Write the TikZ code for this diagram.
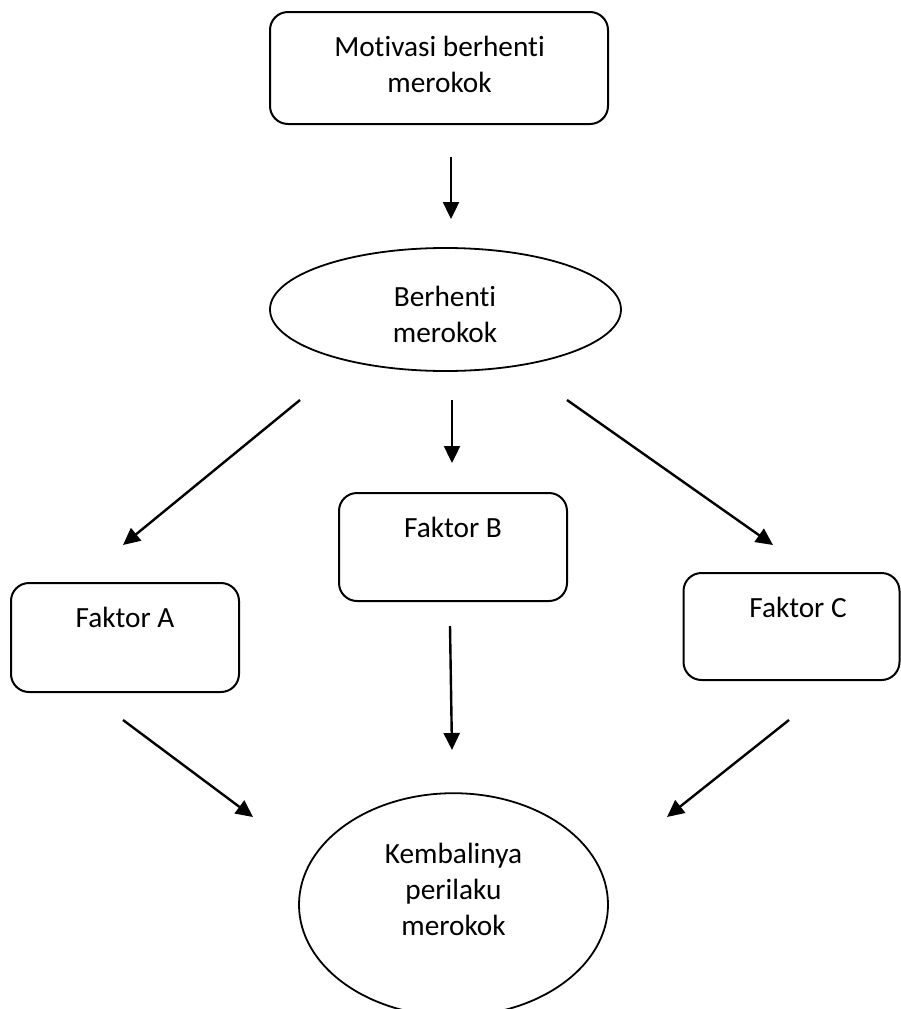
\documentclass[tikz,border=0pt]{standalone}
\usepackage{fontspec}
\setmainfont{Carlito}[Ligatures=NoCommon]
\usetikzlibrary{arrows.meta,shapes.geometric}
\begin{document}
\begin{tikzpicture}[x=1pt,y=-1pt,
  box/.style={draw,line width=2pt,rounded corners=18pt,inner sep=0pt},
  oval/.style={draw,line width=1.8pt,ellipse,inner sep=0pt},
  lbl/.style={font=\fontsize{29.3}{36}\selectfont,align=center,inner sep=0pt,anchor=base},
  arr/.style={line width=2.4pt,-{Triangle[length=17pt,width=16pt]}}]
\useasboundingbox (0,0) rectangle (901,1009);
\clip (0,0) rectangle (901,1009);
% shapes
\node[box,minimum width=338pt,minimum height=112pt] (top) at (439,68) {};
\node[oval,minimum width=351pt,minimum height=123pt] (stop) at (445.5,309.5) {};
\node[box,minimum width=228pt,minimum height=109pt] (fa) at (125,637.5) {};
\node[box,minimum width=228pt,minimum height=108pt] (fb) at (453,547) {};
\node[box,minimum width=216pt,minimum height=107pt] (fc) at (791.5,626.5) {};
\node[oval,minimum width=309pt,minimum height=223pt] (back) at (453.5,904.7) {};
% texts (base anchor = baseline of the last line)
\node[lbl] (ttop) at (439.5,92) {Motivasi berhenti\\merokok};
\node[lbl] (tstop) at (445,342) {Berhenti\\merokok};
\node[lbl] (tfa) at (125,627) {Faktor A};
\node[lbl] (tfb) at (453,537) {Faktor B};
\node[lbl] (tfc) at (798,617) {Faktor C};
\node[lbl] (tback) at (453.5,935) {Kembalinya\\perilaku\\merokok};
% connector ends
\coordinate (a1s) at (451,157); \coordinate (a1e) at (451,219);
\coordinate (a2s) at (300,400); \coordinate (a2e) at (123,545);
\coordinate (a3s) at (452,400); \coordinate (a3e) at (452,463);
\coordinate (a4s) at (567,400); \coordinate (a4e) at (773,545);
\coordinate (a5s) at (123,720); \coordinate (a5e) at (253,817);
\coordinate (a6s) at (450,626); \coordinate (a6e) at (452,750);
\coordinate (a7s) at (789,720); \coordinate (a7e) at (667,817);
\draw[arr] (a1s) -- (a1e);
\draw[arr] (a2s) -- (a2e);
\draw[arr] (a3s) -- (a3e);
\draw[arr] (a4s) -- (a4e);
\draw[arr] (a5s) -- (a5e);
\draw[arr] (a6s) -- (a6e);
\draw[arr] (a7s) -- (a7e);
\end{tikzpicture}
\end{document}
